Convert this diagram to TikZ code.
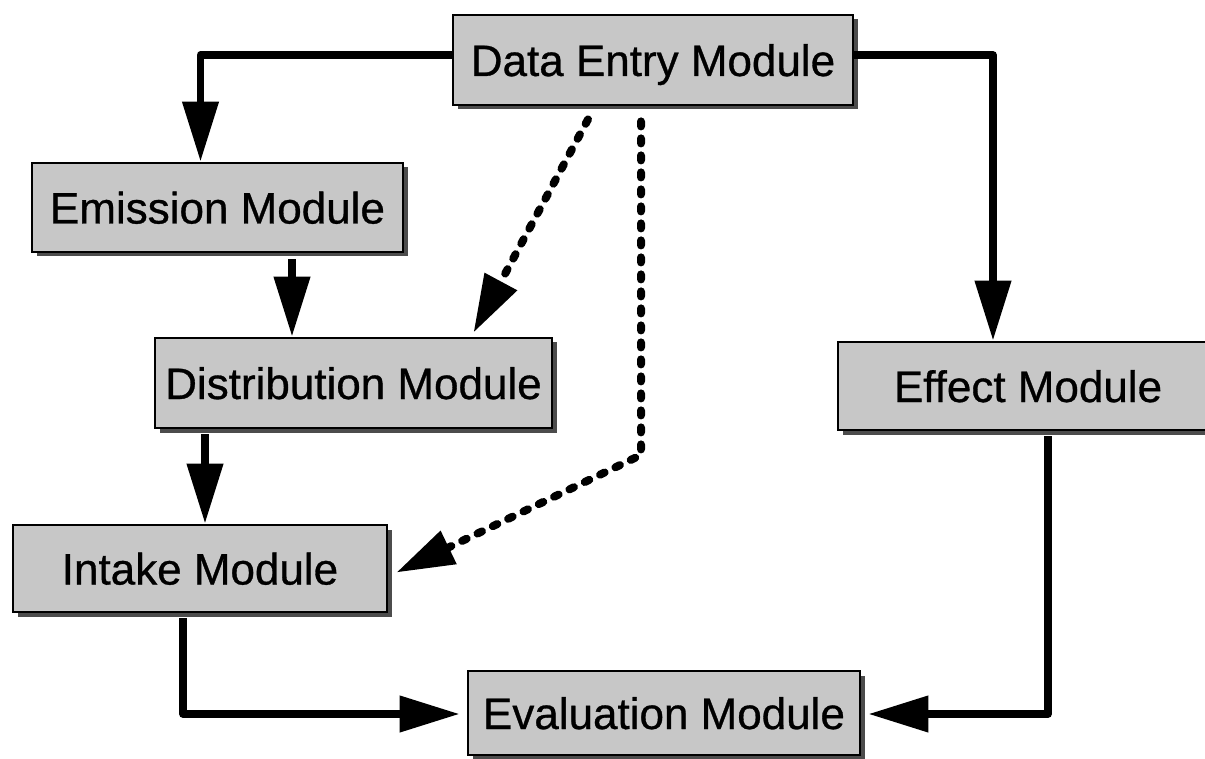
\documentclass[tikz,border=0pt]{standalone}
\usepackage{fontspec}
\setmainfont{Liberation Sans}[BoldFont={Liberation Sans},BoldFeatures={FakeBold=0.7}]
\usetikzlibrary{arrows.meta,shadows,calc}

\tikzset{
  module/.style={draw=black, line width=2.8pt, fill=black!22,
    general shadow={fill=black!70, shadow xshift=4.5pt, shadow yshift=-4.5pt},
    inner sep=0pt, anchor=center,
    font=\fontsize{44}{50}\selectfont\bfseries, text height=32pt, text depth=0pt},
  arr/.style={line width=7.5pt, line join=round,
    -{Triangle[length=60pt,width=35pt]}},
  darr/.style={line width=8pt, line cap=round, dash pattern=on 5pt off 12pt,
    -{Triangle[length=58pt,width=35pt]}}
}

\begin{document}
\begin{tikzpicture}[x=1pt,y=-1pt]
\useasboundingbox (0,0) rectangle (1205,759);
\clip (0,0) rectangle (1205,759);

% module boxes
\node[module, minimum width=400pt, minimum height=90pt] (de) at (653,60) {Data Entry Module};
\node[module, minimum width=371pt, minimum height=89pt] (em) at (217.5,207.5) {Emission Module};
\node[module, minimum width=397pt, minimum height=90pt] (di) at (353.5,383) {Distribution Module};
\node[module, minimum width=380pt, minimum height=88pt] (ef) at (1028,386) {Effect Module};
\node[module, minimum width=374pt, minimum height=87pt] (in) at (200,568.5) {Intake Module};
\node[module, minimum width=392pt, minimum height=84pt] (ev) at (664,713) {Evaluation Module};

% bend of the dashed link into the intake module
\coordinate (kink) at (641,455);

% solid data flow
\draw[arr] ([yshift=5pt]de.west) -| ([xshift=-17pt]em.north);
\draw[arr] ([yshift=5pt]de.east) -| ([xshift=-35pt]ef.north);
\draw[arr] ([xshift=74.5pt,yshift=-6pt]em.south) -- ([xshift=-61.5pt]di.north);
\draw[arr] ([xshift=-148.5pt,yshift=-5pt]di.south) -- ([xshift=5pt]in.north);
\draw[arr, shorten >=7pt] ([xshift=-17pt,yshift=-5pt]in.south) |- ([yshift=-1pt]ev.west);
\draw[arr, shorten >=1pt] ([xshift=20pt,yshift=-5pt]ef.south) |- ([xshift=6pt,yshift=-1pt]ev.east);

% dashed links from data entry
\draw[darr] ([xshift=-65pt,yshift=-13pt]de.south) -- ([xshift=120pt,yshift=4pt]di.north);
\draw[darr] ([xshift=-12pt,yshift=-15pt]de.south) -- (kink) -- ([xshift=8pt,yshift=-4pt]in.east);
\end{tikzpicture}
\end{document}
